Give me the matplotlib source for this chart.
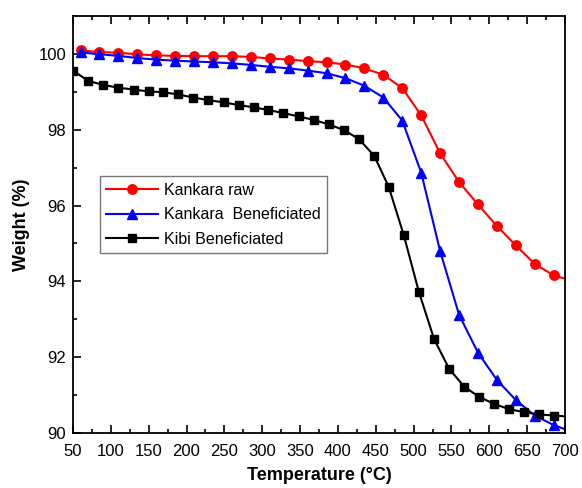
import matplotlib
matplotlib.use('Agg')
import matplotlib.pyplot as plt
from matplotlib.ticker import MultipleLocator

plt.rcParams['font.family'] = ['Liberation Sans', 'DejaVu Sans']

# TGA curves (last point of each list is the line end at 700 C, no marker)
raw_temp = [60, 85, 110, 135, 160, 185, 210, 235, 260, 285, 310, 335, 360, 385, 410,
            435, 460, 485, 510, 535, 560, 585, 610, 635, 660, 685, 700]
raw_wt = [100.09, 100.05, 100.03, 99.99, 99.96, 99.95, 99.94, 99.94, 99.94, 99.92, 99.88,
          99.85, 99.81, 99.78, 99.72, 99.62, 99.45, 99.10, 98.38, 97.38, 96.62, 96.03,
          95.46, 94.95, 94.46, 94.16, 94.07]

ben_temp = raw_temp
ben_wt = [100.04, 99.99, 99.95, 99.89, 99.85, 99.82, 99.80, 99.78, 99.75, 99.71, 99.66,
          99.62, 99.56, 99.49, 99.36, 99.16, 98.85, 98.24, 96.87, 94.80, 93.12, 92.12,
          91.40, 90.87, 90.46, 90.21, 90.10]

kibi_temp = [50, 70, 90, 110, 130, 150, 169, 189, 209, 229, 249, 269, 289, 308, 328, 348,
             368, 388, 408, 428, 448, 467, 487, 507, 527, 547, 567, 586, 606, 626, 646,
             666, 686, 700]
kibi_wt = [99.56, 99.29, 99.18, 99.11, 99.06, 99.01, 98.99, 98.93, 98.85, 98.78, 98.72,
           98.65, 98.59, 98.52, 98.44, 98.35, 98.26, 98.14, 97.99, 97.75, 97.31, 96.50,
           95.22, 93.72, 92.48, 91.69, 91.22, 90.96, 90.77, 90.63, 90.55, 90.49, 90.46,
           90.44]

fig = plt.figure(figsize=(5.82, 4.88), dpi=100)
ax = fig.add_axes([73/582, 1 - 433/488, 492/582, 417/488])

ax.plot(raw_temp, raw_wt, color='#ff0000', lw=1.5, marker='o', ms=6.8,
        markevery=list(range(len(raw_temp) - 1)), label='Kankara raw')
ax.plot(ben_temp, ben_wt, color='#0000ff', lw=1.5, marker='^', ms=7,
        markevery=list(range(len(ben_temp) - 1)), label='Kankara  Beneficiated')
ax.plot(kibi_temp, kibi_wt, color='black', lw=1.5, marker='s', ms=5.8,
        markevery=list(range(len(kibi_temp) - 1)), label='Kibi Beneficiated')

ax.set_xlim(50, 700)
ax.set_ylim(90, 101)
ax.xaxis.set_major_locator(MultipleLocator(50))
ax.xaxis.set_minor_locator(MultipleLocator(25))
ax.yaxis.set_major_locator(MultipleLocator(2))
ax.yaxis.set_minor_locator(MultipleLocator(1))
ax.tick_params(which='both', direction='in', top=True, right=False, width=1.2)
ax.tick_params(which='major', length=6, labelsize=12)
ax.tick_params(axis='x', which='major', pad=8)
ax.tick_params(axis='y', which='major', pad=5)
ax.tick_params(which='minor', length=3)
for s in ax.spines.values():
    s.set_linewidth(1.3)

ax.set_xlabel('Temperature (\u00b0C)', fontsize=13, fontweight='bold', labelpad=6)
ax.set_ylabel('Weight (%)', fontsize=13, fontweight='bold', labelpad=6)

leg = ax.legend(loc='upper left', bbox_to_anchor=(0.055, 0.616), borderaxespad=0,
                fontsize=11.5, fancybox=False, edgecolor='#777777', framealpha=1,
                handlelength=3.2, handletextpad=0.4, labelspacing=0.6,
                borderpad=0.4)
leg.get_frame().set_linewidth(1.0)

fig.savefig('out.png', dpi=100)
